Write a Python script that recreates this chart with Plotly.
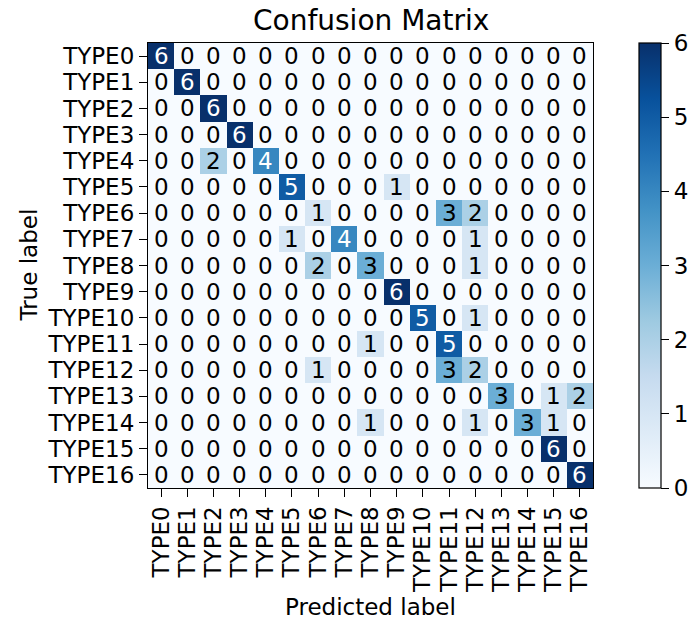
import plotly.graph_objects as go

# Class names shared by both axes
labels = [f"TYPE{i}" for i in range(17)]

# Confusion matrix counts: rows = true label, columns = predicted label
cm = [
    [6, 0, 0, 0, 0, 0, 0, 0, 0, 0, 0, 0, 0, 0, 0, 0, 0],
    [0, 6, 0, 0, 0, 0, 0, 0, 0, 0, 0, 0, 0, 0, 0, 0, 0],
    [0, 0, 6, 0, 0, 0, 0, 0, 0, 0, 0, 0, 0, 0, 0, 0, 0],
    [0, 0, 0, 6, 0, 0, 0, 0, 0, 0, 0, 0, 0, 0, 0, 0, 0],
    [0, 0, 2, 0, 4, 0, 0, 0, 0, 0, 0, 0, 0, 0, 0, 0, 0],
    [0, 0, 0, 0, 0, 5, 0, 0, 0, 1, 0, 0, 0, 0, 0, 0, 0],
    [0, 0, 0, 0, 0, 0, 1, 0, 0, 0, 0, 3, 2, 0, 0, 0, 0],
    [0, 0, 0, 0, 0, 1, 0, 4, 0, 0, 0, 0, 1, 0, 0, 0, 0],
    [0, 0, 0, 0, 0, 0, 2, 0, 3, 0, 0, 0, 1, 0, 0, 0, 0],
    [0, 0, 0, 0, 0, 0, 0, 0, 0, 6, 0, 0, 0, 0, 0, 0, 0],
    [0, 0, 0, 0, 0, 0, 0, 0, 0, 0, 5, 0, 1, 0, 0, 0, 0],
    [0, 0, 0, 0, 0, 0, 0, 0, 1, 0, 0, 5, 0, 0, 0, 0, 0],
    [0, 0, 0, 0, 0, 0, 1, 0, 0, 0, 0, 3, 2, 0, 0, 0, 0],
    [0, 0, 0, 0, 0, 0, 0, 0, 0, 0, 0, 0, 0, 3, 0, 1, 2],
    [0, 0, 0, 0, 0, 0, 0, 0, 1, 0, 0, 0, 1, 0, 3, 1, 0],
    [0, 0, 0, 0, 0, 0, 0, 0, 0, 0, 0, 0, 0, 0, 0, 6, 0],
    [0, 0, 0, 0, 0, 0, 0, 0, 0, 0, 0, 0, 0, 0, 0, 0, 6],
]

cbar_ticks = [0, 1, 2, 3, 4, 5, 6]

FONT = "DejaVu Sans"
FS = 23
W, H = 691, 624

# Matplotlib-style "Blues" sequential map
blues = ["#f7fbff", "#deebf7", "#c6dbef", "#9ecae1", "#6baed6",
         "#4292c6", "#2171b5", "#08519c", "#08306b"]
colorscale = [[i / (len(blues) - 1), c] for i, c in enumerate(blues)]

n = len(labels)
idx = list(range(n))
vmax = max(max(r) for r in cm)
thresh = vmax / 2

# plot area in pixels
px0, px1, py0, py1 = 148, 593, 43, 488
xdom = [px0 / W, px1 / W]
ydom = [1 - py1 / H, 1 - py0 / H]

fig = go.Figure()
fig.add_trace(go.Heatmap(
    z=cm, x=idx, y=idx,
    colorscale=colorscale, zmin=0, zmax=vmax,
    xgap=0, ygap=0, hoverinfo="skip",
    colorbar=dict(
        x=639 / W, xanchor="left", xpad=0,
        y=ydom[0], yanchor="bottom", ypad=0,
        len=(py1 - py0) / H, lenmode="fraction",
        thickness=22, thicknessmode="pixels",
        outlinewidth=1.2, outlinecolor="black",
        tickvals=cbar_ticks, ticks="outside", ticklen=8,
        tickwidth=1.2, tickcolor="black",
        tickfont=dict(family=FONT, size=FS, color="black"),
    ),
))

# per-cell count labels, white on dark cells
annotations = []
for i in range(n):
    for j in range(n):
        v = cm[i][j]
        annotations.append(dict(
            x=j, y=i, xref="x", yref="y", text=str(v), showarrow=False,
            font=dict(family=FONT, size=FS,
                      color="white" if v > thresh else "black"),
        ))

annotations += [
    dict(text="Confusion Matrix", x=(px0 + px1) / 2 / W, y=1 - 20 / H,
         xref="paper", yref="paper", showarrow=False,
         xanchor="center", yanchor="middle",
         font=dict(family=FONT, size=28, color="black")),
    dict(text="Predicted label", x=(px0 + px1) / 2 / W, y=1 - 607 / H,
         xref="paper", yref="paper", showarrow=False,
         xanchor="center", yanchor="middle",
         font=dict(family=FONT, size=FS, color="black")),
    dict(text="True label", x=29 / W, y=1 - (py0 + py1) / 2 / H,
         xref="paper", yref="paper", showarrow=False, textangle=-90,
         xanchor="center", yanchor="middle",
         font=dict(family=FONT, size=FS, color="black")),
]

axis_common = dict(
    tickmode="array", tickvals=idx, ticktext=labels,
    ticks="outside", ticklen=8, tickwidth=1.2, tickcolor="black",
    showline=True, linecolor="black", linewidth=1.2, mirror=True,
    showgrid=False, zeroline=False,
    tickfont=dict(family=FONT, size=FS, color="black"),
)

fig.update_layout(
    width=W, height=H, autosize=False,
    margin=dict(l=0, r=0, t=0, b=0),
    paper_bgcolor="white", plot_bgcolor="white",
    xaxis=dict(domain=xdom, range=[-0.5, n - 0.5], tickangle=-90,
               **axis_common),
    yaxis=dict(domain=ydom, range=[n - 0.5, -0.5], **axis_common),
    annotations=annotations,
    showlegend=False,
)

fig.write_html("out.html")
